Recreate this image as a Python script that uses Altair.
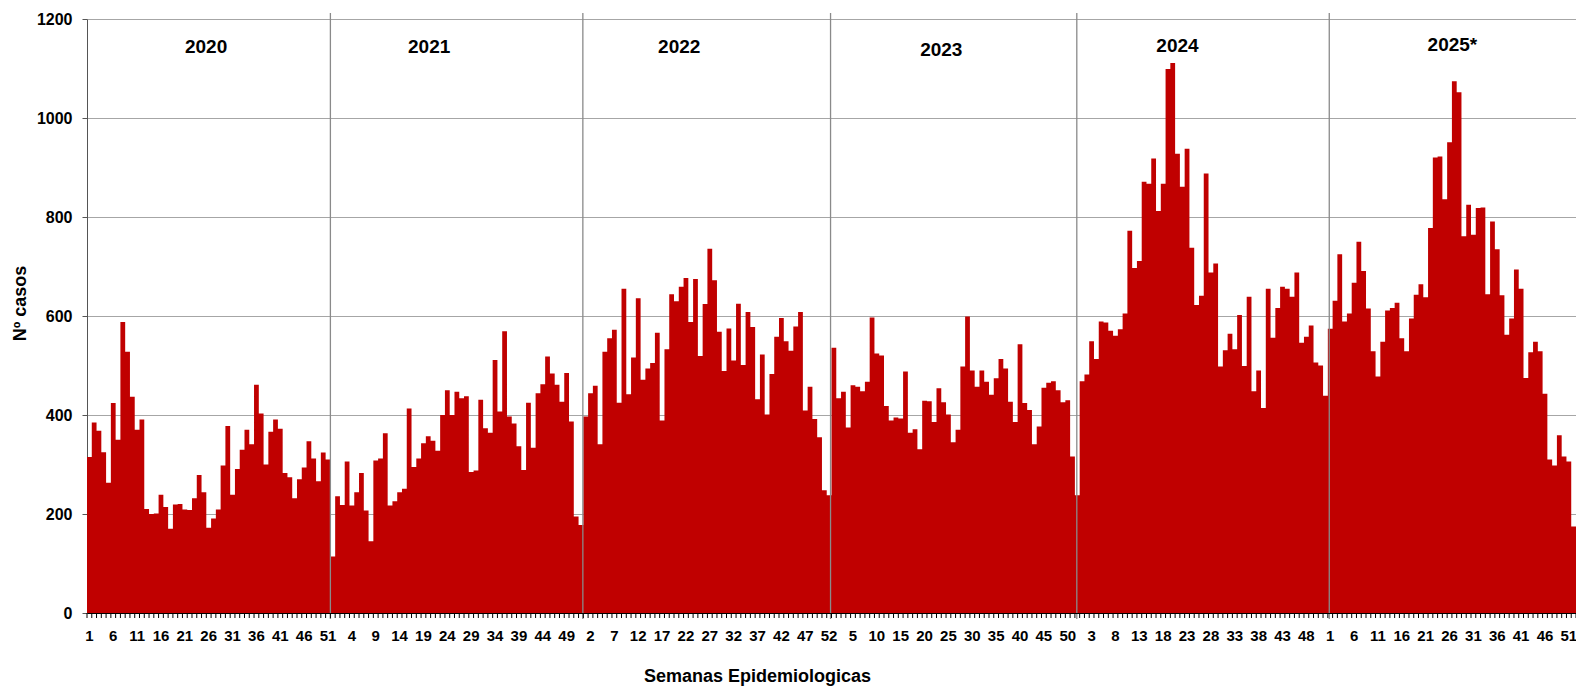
import altair as alt
import pandas as pd

# ---- data ----
years = ["2020", "2021", "2022", "2023", "2024", "2025*"]

cases_2020 = [315, 385, 368, 325, 263, 424, 350, 588, 528, 437,
              370, 391, 210, 200, 201, 239, 214, 170, 219, 220,
              209, 208, 232, 279, 244, 172, 191, 209, 298, 378,
              239, 291, 330, 370, 341, 461, 403, 300, 366, 391,
              372, 283, 274, 232, 270, 294, 347, 312, 266, 324,
              310, 114]
cases_2021 = [236, 218, 306, 217, 244, 283, 207, 145, 308, 312,
              363, 217, 226, 244, 251, 413, 295, 312, 343, 357,
              348, 328, 400, 450, 400, 447, 434, 438, 285, 288,
              431, 373, 364, 511, 407, 569, 397, 383, 337, 289,
              425, 334, 444, 462, 518, 484, 461, 427, 485, 387,
              195, 178]
cases_2022 = [397, 444, 459, 341, 528, 555, 572, 425, 655, 442,
              516, 636, 471, 494, 505, 566, 389, 533, 644, 630,
              659, 677, 588, 675, 519, 624, 736, 672, 568, 489,
              575, 510, 625, 501, 608, 578, 432, 522, 401, 483,
              558, 596, 549, 530, 579, 608, 409, 457, 392, 355,
              248, 238]
cases_2023 = [536, 434, 447, 375, 460, 457, 448, 467, 597, 524,
              520, 418, 389, 395, 393, 488, 364, 371, 331, 429,
              428, 386, 454, 426, 401, 345, 370, 498, 599, 490,
              457, 490, 467, 441, 474, 513, 494, 427, 386, 543,
              424, 410, 341, 377, 455, 465, 468, 450, 426, 430,
              316, 238]
cases_2024 = [468, 482, 549, 513, 589, 587, 570, 560, 573, 605,
              772, 697, 711, 871, 867, 918, 812, 867, 1099, 1111,
              928, 861, 938, 738, 622, 641, 888, 688, 706, 498,
              531, 564, 533, 602, 499, 639, 448, 490, 414, 655,
              556, 616, 659, 655, 639, 688, 546, 558, 581, 506,
              500, 439]
cases_2025 = [574, 631, 725, 589, 605, 667, 750, 691, 615, 529,
              478, 548, 611, 616, 627, 555, 529, 595, 643, 664,
              638, 778, 920, 922, 836, 951, 1074, 1052, 761, 825,
              764, 818, 819, 644, 791, 735, 642, 562, 595, 694,
              655, 475, 527, 548, 529, 443, 310, 298, 359, 316,
              306, 175]

# position of year captions (in bar units) and their height (in cases)
year_label_pos = [24.96, 71.7, 124.1, 179.0, 228.5, 286.1]
year_label_val = [1143, 1143, 1143, 1137, 1145, 1147]
# year separator lines (in bar units)
separator_pos = [51.0, 103.9, 155.8, 207.4, 260.3]

y_ticks = [0, 200, 400, 600, 800, 1000, 1200]
label_every = 5
weeks_per_year = 52

# ---- build tables ----
values = cases_2020 + cases_2021 + cases_2022 + cases_2023 + cases_2024 + cases_2025
n = len(values)
# gap-free columns: one step per week (last week closed at x = n)
df = pd.DataFrame({"i": list(range(n)) + [n], "casos": values + [values[-1]]})
df_years = pd.DataFrame({"pos": year_label_pos, "val": year_label_val, "txt": years})
df_sep = pd.DataFrame({"pos": separator_pos})
df_ticks = pd.DataFrame({"pos": list(range(n + 1))})
lab_idx = list(range(0, n, label_every))
df_labels = pd.DataFrame({
    "pos": [k + 0.5 for k in lab_idx],
    "txt": [str(k % weeks_per_year + 1) for k in lab_idx],
})

W, H = 1489, 594
FONT = "Liberation Sans"

xscale = alt.Scale(domain=[0, n], nice=False, zero=False)
yscale = alt.Scale(domain=[0, 1200], nice=False)

x_axis = alt.Axis(
    labels=False,
    ticks=False,
    grid=False,
    domainColor="#000000",
    zindex=1,
    title="Semanas Epidemiologicas",
    titleFont=FONT,
    titleFontWeight="bold",
    titleFontSize=18,
    titleColor="#000000",
    titleX=670,
    titleY=63,
    titleAlign="center",
    titleBaseline="middle",
)

y_axis = alt.Axis(
    values=y_ticks,
    format="d",
    grid=True,
    gridColor="#a6a6a6",
    gridWidth=1,
    domainColor="#555555",
    tickColor="#555555",
    tickSize=5,
    labelFont=FONT,
    labelFontWeight="bold",
    labelFontSize=16,
    labelColor="#000000",
    labelPadding=10,
    title="Nº casos",
    titleFont=FONT,
    titleFontWeight="bold",
    titleFontSize=18,
    titleColor="#000000",
    titleAngle=270,
    titleX=-67,
    titleY=284,
    titleAlign="center",
    titleBaseline="middle",
)

bars = alt.Chart(df).mark_area(color="#C00000", interpolate="step-after", opacity=1).encode(
    x=alt.X("i:Q", scale=xscale, axis=x_axis),
    y=alt.Y("casos:Q", scale=yscale, axis=y_axis),
)

seps = alt.Chart(df_sep).mark_rule(color="#8a8a8a", strokeWidth=1.3).encode(
    x=alt.X("pos:Q", scale=xscale),
    y=alt.value(-6),
    y2=alt.value(H + 6),
)

ticks = alt.Chart(df_ticks).mark_rule(color="#000000", strokeWidth=1).encode(
    x=alt.X("pos:Q", scale=xscale),
    y=alt.value(H),
    y2=alt.value(H + 5),
)

xlabels = alt.Chart(df_labels).mark_text(
    font=FONT, fontWeight="bold", fontSize=15, color="#000000", align="center", baseline="middle"
).encode(
    x=alt.X("pos:Q", scale=xscale),
    y=alt.value(H + 23),
    text="txt:N",
)

year_text = alt.Chart(df_years).mark_text(
    font=FONT, fontWeight="bold", fontSize=19, color="#000000", align="center", baseline="middle"
).encode(
    x=alt.X("pos:Q", scale=xscale),
    y=alt.Y("val:Q", scale=yscale),
    text="txt:N",
)

chart = alt.layer(bars, seps, ticks, xlabels, year_text).properties(
    width=W,
    height=H,
    autosize=alt.AutoSizeParams(type="none"),
    padding={"left": 79, "top": 11, "right": 0, "bottom": 74},
).configure_view(stroke=None)

chart.save("out.html", embed_options={"renderer": "svg", "actions": False})
